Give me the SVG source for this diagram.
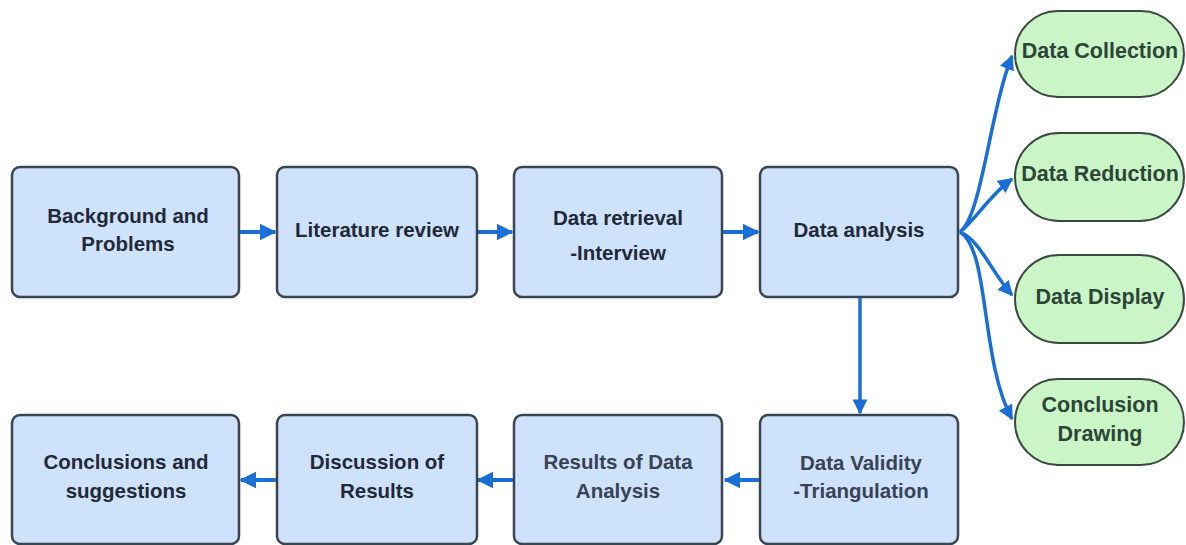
<svg xmlns="http://www.w3.org/2000/svg" width="1186" height="545" viewBox="0 0 1186 545">
<defs>
<style>
.box{fill:#cfe2fb;stroke:#3b4451;stroke-width:2.5}
.pill{fill:#c9f5c7;stroke:#3b4a40;stroke-width:2}
.t{font-family:"Liberation Sans",Arial,sans-serif;font-weight:bold;font-size:20.5px;fill:#1f2937;text-anchor:middle}
.t2{fill:#374354}
.g{fill:#2d4536;font-size:21.5px}
.c{fill:none;stroke:#1a6fd6;stroke-width:3.5}
.h{stroke-width:4}
</style>
<marker id="ah" viewBox="0 0 10 10" refX="9" refY="5" markerWidth="4.3" markerHeight="4.3" orient="auto" markerUnits="strokeWidth">
<path d="M0,0 L10,5 L0,10 z" fill="#1a6fd6"/>
</marker>
</defs>
<rect width="1186" height="545" fill="#ffffff"/>
<g id="connectors">
<path class="c h" d="M240,232 L275,232" marker-end="url(#ah)"/>
<path class="c h" d="M478,232 L512,232" marker-end="url(#ah)"/>
<path class="c h" d="M723,232 L758,232" marker-end="url(#ah)"/>
<path class="c" d="M860,298 L860,413" marker-end="url(#ah)"/>
<path class="c h" d="M759,480 L725,480" marker-end="url(#ah)"/>
<path class="c h" d="M513,480 L478,480" marker-end="url(#ah)"/>
<path class="c h" d="M276,480 L241,480" marker-end="url(#ah)"/>
<path class="c" d="M960,232 C982,215 990,110 1012,56" marker-end="url(#ah)"/>
<path class="c" d="M960,232 C975,220 990,195 1012,179" marker-end="url(#ah)"/>
<path class="c" d="M960,232 C980,240 990,270 1012,295" marker-end="url(#ah)"/>
<path class="c" d="M960,232 C990,250 980,360 1012,419" marker-end="url(#ah)"/>
</g>
<g id="n1"><rect class="box" x="12" y="167" width="227" height="130" rx="8"/><text class="t" x="128" y="223">Background and</text><text class="t" x="128" y="251">Problems</text></g>
<g id="n2"><rect class="box" x="277" y="167" width="200" height="130" rx="8"/><text class="t" x="377" y="237">Literature review</text></g>
<g id="n3"><rect class="box" x="514" y="167" width="208" height="130" rx="8"/><text class="t" x="618" y="225">Data retrieval</text><text class="t" x="618" y="260">-Interview</text></g>
<g id="n4"><rect class="box" x="760" y="167" width="198" height="130" rx="8"/><text class="t" x="859" y="237">Data analysis</text></g>
<g id="n5"><rect class="box" x="760" y="415" width="198" height="129" rx="8"/><text class="t t2" x="861" y="470">Data Validity</text><text class="t t2" x="861" y="498">-Triangulation</text></g>
<g id="n6"><rect class="box" x="514" y="415" width="208" height="129" rx="8"/><text class="t t2" x="618" y="469">Results of Data</text><text class="t t2" x="618" y="498">Analysis</text></g>
<g id="n7"><rect class="box" x="277" y="415" width="200" height="129" rx="8"/><text class="t" x="377" y="469">Discussion of</text><text class="t" x="377" y="498">Results</text></g>
<g id="n8"><rect class="box" x="12" y="415" width="227" height="129" rx="8"/><text class="t" x="126" y="469">Conclusions and</text><text class="t" x="126" y="498">suggestions</text></g>
<g id="g1"><rect class="pill" x="1015" y="11" width="169" height="86" rx="43"/><text class="t g" x="1100" y="58">Data Collection</text></g>
<g id="g2"><rect class="pill" x="1015" y="133" width="169" height="88" rx="44"/><text class="t g" x="1100" y="181">Data Reduction</text></g>
<g id="g3"><rect class="pill" x="1015" y="255" width="169" height="88" rx="44"/><text class="t g" x="1100" y="304">Data Display</text></g>
<g id="g4"><rect class="pill" x="1015" y="379" width="169" height="86" rx="43"/><text class="t g" x="1100" y="412">Conclusion</text><text class="t g" x="1100" y="441">Drawing</text></g>
</svg>
